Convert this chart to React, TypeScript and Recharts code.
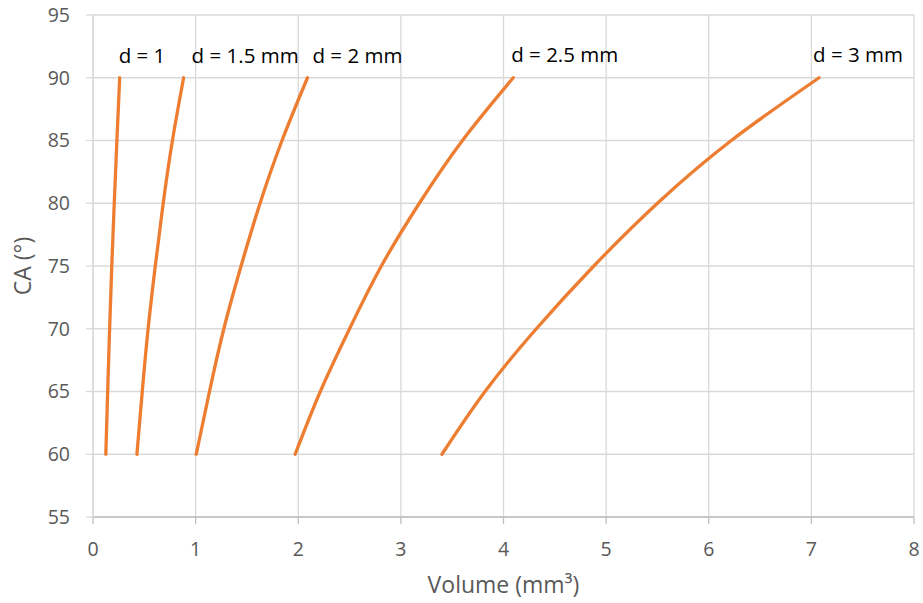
import { LineChart, Line, XAxis, YAxis, CartesianGrid, Label } from "recharts";

// contact angle (deg) at which each volume was read
const contactAngles = [60, 65, 70, 75, 80, 85, 90];

// drop volume (mm³) per base diameter
const volD1 = [0.125, 0.143, 0.162, 0.183, 0.207, 0.233, 0.26];
const volD15 = [0.428, 0.48, 0.537, 0.607, 0.684, 0.774, 0.883];
const volD2 = [1.006, 1.135, 1.275, 1.443, 1.628, 1.842, 2.09];
const volD25 = [1.97, 2.215, 2.5, 2.81, 3.18, 3.6, 4.095];
const volD3 = [3.4, 3.82, 4.32, 4.88, 5.5, 6.22, 7.075];

const seriesNames = ["d = 1", "d = 1.5 mm", "d = 2 mm", "d = 2.5 mm", "d = 3 mm"];
const seriesVolumes = [volD1, volD15, volD2, volD25, volD3];

const xTicks = [0, 1, 2, 3, 4, 5, 6, 7, 8];
const yTicks = [55, 60, 65, 70, 75, 80, 85, 90, 95];

// where each name sits relative to the top end of its curve
const labelOffsets = [
  { dx: -1, dy: -15 },
  { dx: 8, dy: -15 },
  { dx: 5, dy: -15 },
  { dx: -2, dy: -16 },
  { dx: -6, dy: -16 },
];

const ORANGE = "#ED7D31";
const FONT = "'Open Sans', sans-serif";

const series = seriesNames.map((name, i) => ({
  name,
  data: contactAngles.map((ca, j) => ({ vol: seriesVolumes[i][j], ca })),
}));

function endLabel(i: number, last: number) {
  return (props: any) => {
    const { x, y, index } = props;
    if (index !== last) return <g />;
    return (
      <text
        x={x + labelOffsets[i].dx}
        y={y + labelOffsets[i].dy}
        fill="#000"
        fontSize={20.5}
        fontFamily={FONT}
        textAnchor="start"
      >
        {seriesNames[i]}
      </text>
    );
  };
}

export default function App() {
  return (
    <div style={{ position: "absolute", left: 0, top: 0, width: 923, height: 603, background: "#fff" }}>
      <LineChart width={923} height={603} margin={{ top: 15, right: 9, bottom: 0, left: 0 }}>
        <CartesianGrid stroke="#d9d9d9" strokeWidth={1.3} />
        <XAxis
          type="number"
          dataKey="vol"
          domain={[0, 8]}
          ticks={xTicks}
          allowDataOverflow
          height={86}
          stroke="#bfbfbf"
          strokeWidth={1.3}
          tickSize={7}
          tickMargin={18}
          tick={{ fill: "#595959", fontSize: 19.5, fontFamily: FONT }}
        >
          <Label
            value="Volume (mm³)"
            position="insideBottom"
            offset={10}
            fill="#595959"
            fontSize={23}
            fontFamily={FONT}
          />
        </XAxis>
        <YAxis
          type="number"
          dataKey="ca"
          domain={[55, 95]}
          ticks={yTicks}
          width={93}
          stroke="#d9d9d9"
          strokeWidth={1.3}
          tickSize={7}
          tickMargin={16}
          tick={{ fill: "#595959", fontSize: 19.5, fontFamily: FONT }}
        >
          <Label
            value="CA (°)"
            angle={-90}
            position="insideLeft"
            offset={23}
            fill="#595959"
            fontSize={23}
            fontFamily={FONT}
            style={{ textAnchor: "middle" }}
          />
        </YAxis>
        {series.map((s, i) => (
          <Line
            key={s.name}
            data={s.data}
            dataKey="ca"
            name={s.name}
            type="natural"
            stroke={ORANGE}
            strokeWidth={3.3}
            strokeLinecap="round"
            dot={false}
            activeDot={false}
            isAnimationActive={false}
            label={endLabel(i, s.data.length - 1)}
          />
        ))}
      </LineChart>
    </div>
  );
}
